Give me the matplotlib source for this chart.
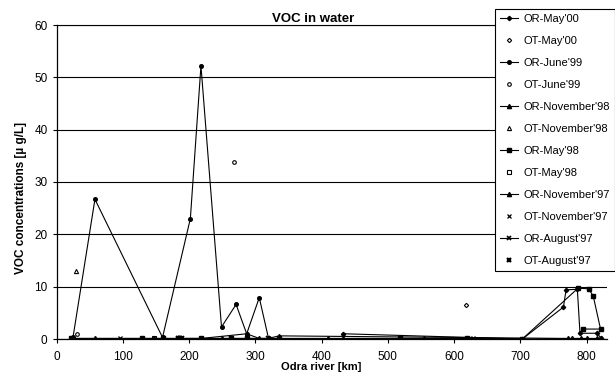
import matplotlib
matplotlib.use("Agg")
import matplotlib.pyplot as plt

plt.rcParams['font.family'] = ['Liberation Sans', 'DejaVu Sans']

# ---- data (km along Odra river, VOC concentration in ug/L) ----
or_may00_x = [433, 703, 765, 769, 786, 790, 816, 822]
or_may00_y = [1.0, 0.0, 6.1, 9.4, 9.5, 1.1, 1.1, 0.1]
ot_may00_x = [618]
ot_may00_y = [6.5]

or_jun99_x = [22, 25, 58, 160, 202, 218, 249, 271, 287, 306, 320]
or_jun99_y = [0.2, 0.4, 26.7, 0.3, 23.0, 52.2, 2.3, 6.6, 1.0, 7.9, 0.1]
ot_jun99_x = [31, 268]
ot_jun99_y = [0.9, 33.8]

or_nov98_x = [22, 58, 160, 218, 249, 287, 336, 409, 433, 554, 703, 772, 792, 815]
or_nov98_y = [0.1, 0.1, 0.1, 0.1, 0.1, 0.1, 0.1, 0.1, 0.1, 0.1, 0.0, 0.1, 0.1, 0.1]
ot_nov98_x = [30]
ot_nov98_y = [12.9]

or_may98_x = [22, 129, 160, 183, 218, 263, 287, 336, 518, 619, 703, 787, 803, 810, 821, 794]
or_may98_y = [0.1, 0.1, 0.1, 0.1, 0.1, 0.1, 0.1, 0.1, 0.1, 0.1, 0.0, 9.7, 9.6, 8.2, 1.9, 1.9]
ot_may98_x = [147]
ot_may98_y = [0.1]

or_nov97_x = [25, 147, 160, 190, 218, 287, 306, 319, 336, 778, 801, 822]
or_nov97_y = [0.1, 0.1, 0.1, 0.1, 0.1, 1.0, 0.1, 0.1, 0.6, 0.1, 0.1, 0.1]
ot_nov97_x = [96, 628]
ot_nov97_y = [0.1, 0.1]

or_aug97_x = [183, 190, 263, 319]
or_aug97_y = [0.1, 0.1, 0.1, 0.1]
ot_aug97_x = [187]
ot_aug97_y = [0.1]

x_ticks = [0, 100, 200, 300, 400, 500, 600, 700, 800]
y_ticks = [0, 10, 20, 30, 40, 50, 60]

# ---- figure ----
fig = plt.figure(figsize=(6.15, 3.81), dpi=100)
ax = fig.add_axes([56.5 / 615, 1 - 339 / 381, 550 / 615, 314 / 381])

lw = 0.8
ms = 2.6
k = 'black'

ax.plot(or_may00_x, or_may00_y, '-D', color=k, lw=lw, ms=ms - 0.4, label="OR-May'00", zorder=3)
ax.plot(ot_may00_x, ot_may00_y, 'D', color=k, mfc='white', lw=0, ms=ms - 0.4, mew=0.8, label="OT-May'00", zorder=3)
ax.plot(or_jun99_x, or_jun99_y, '-o', color=k, lw=lw, ms=ms, label="OR-June'99", zorder=3)
ax.plot(ot_jun99_x, ot_jun99_y, 'o', color=k, mfc='white', lw=0, ms=ms, mew=0.8, label="OT-June'99", zorder=3)
ax.plot(or_nov98_x, or_nov98_y, '-^', color=k, lw=lw, ms=ms + 0.4, label="OR-November'98", zorder=3)
ax.plot(ot_nov98_x, ot_nov98_y, '^', color=k, mfc='white', lw=0, ms=ms + 0.4, mew=0.8, label="OT-November'98", zorder=3)
ax.plot(or_may98_x, or_may98_y, '-s', color=k, lw=lw, ms=ms, label="OR-May'98", zorder=3)
ax.plot(ot_may98_x, ot_may98_y, 's', color=k, mfc='white', lw=0, ms=ms, mew=0.8, label="OT-May'98", zorder=3)
ax.plot(or_nov97_x, or_nov97_y, '-^', color=k, lw=lw, ms=ms + 0.4, label="OR-November'97", zorder=3)
ax.plot(ot_nov97_x, ot_nov97_y, 'x', color=k, lw=0, ms=ms, mew=0.9, label="OT-November'97", zorder=3)
ax.plot(or_aug97_x, or_aug97_y, '-x', color=k, lw=lw, ms=ms, mew=1.2, label="OR-August'97", zorder=3)
ax.plot(ot_aug97_x, ot_aug97_y, 'x', color=k, lw=0, ms=ms, mew=1.6, label="OT-August'97", zorder=3)

ax.set_xlim(0, 830)
ax.set_ylim(0, 60)
ax.set_xticks(x_ticks)
ax.set_yticks(y_ticks)
ax.tick_params(axis='both', labelsize=8.5, colors='black', length=3, width=0.8, direction='out')
ax.tick_params(axis='x', pad=6)
ax.yaxis.grid(True, color='black', lw=0.8)
ax.set_axisbelow(True)
for s in ['top', 'right']:
    ax.spines[s].set_visible(False)
for s in ['left', 'bottom']:
    ax.spines[s].set_linewidth(0.9)
ax.axhline(60, color='black', lw=0.8, clip_on=False)

fig.text(313 / 615, 1 - 19 / 381, 'VOC in water', ha='center', va='center',
         fontsize=9.5, fontweight='bold')
fig.text(321 / 615, 1 - 367 / 381, 'Odra river [km]', ha='center', va='center',
         fontsize=8, fontweight='bold')
fig.text(21 / 615, 1 - 198 / 381, 'VOC concentrations [µ g/L]', ha='center', va='center',
         rotation=90, fontsize=8.5, fontweight='bold')

leg = fig.legend(loc='upper left', bbox_to_anchor=(495 / 615, 1 - 9 / 381),
                 fontsize=8, frameon=True, fancybox=False, framealpha=1,
                 edgecolor='black', handlelength=1.6, handletextpad=0.5,
                 labelspacing=1.08, borderpad=0.45, borderaxespad=0)
leg.get_frame().set_linewidth(0.8)

fig.savefig('out.png', dpi=100)
